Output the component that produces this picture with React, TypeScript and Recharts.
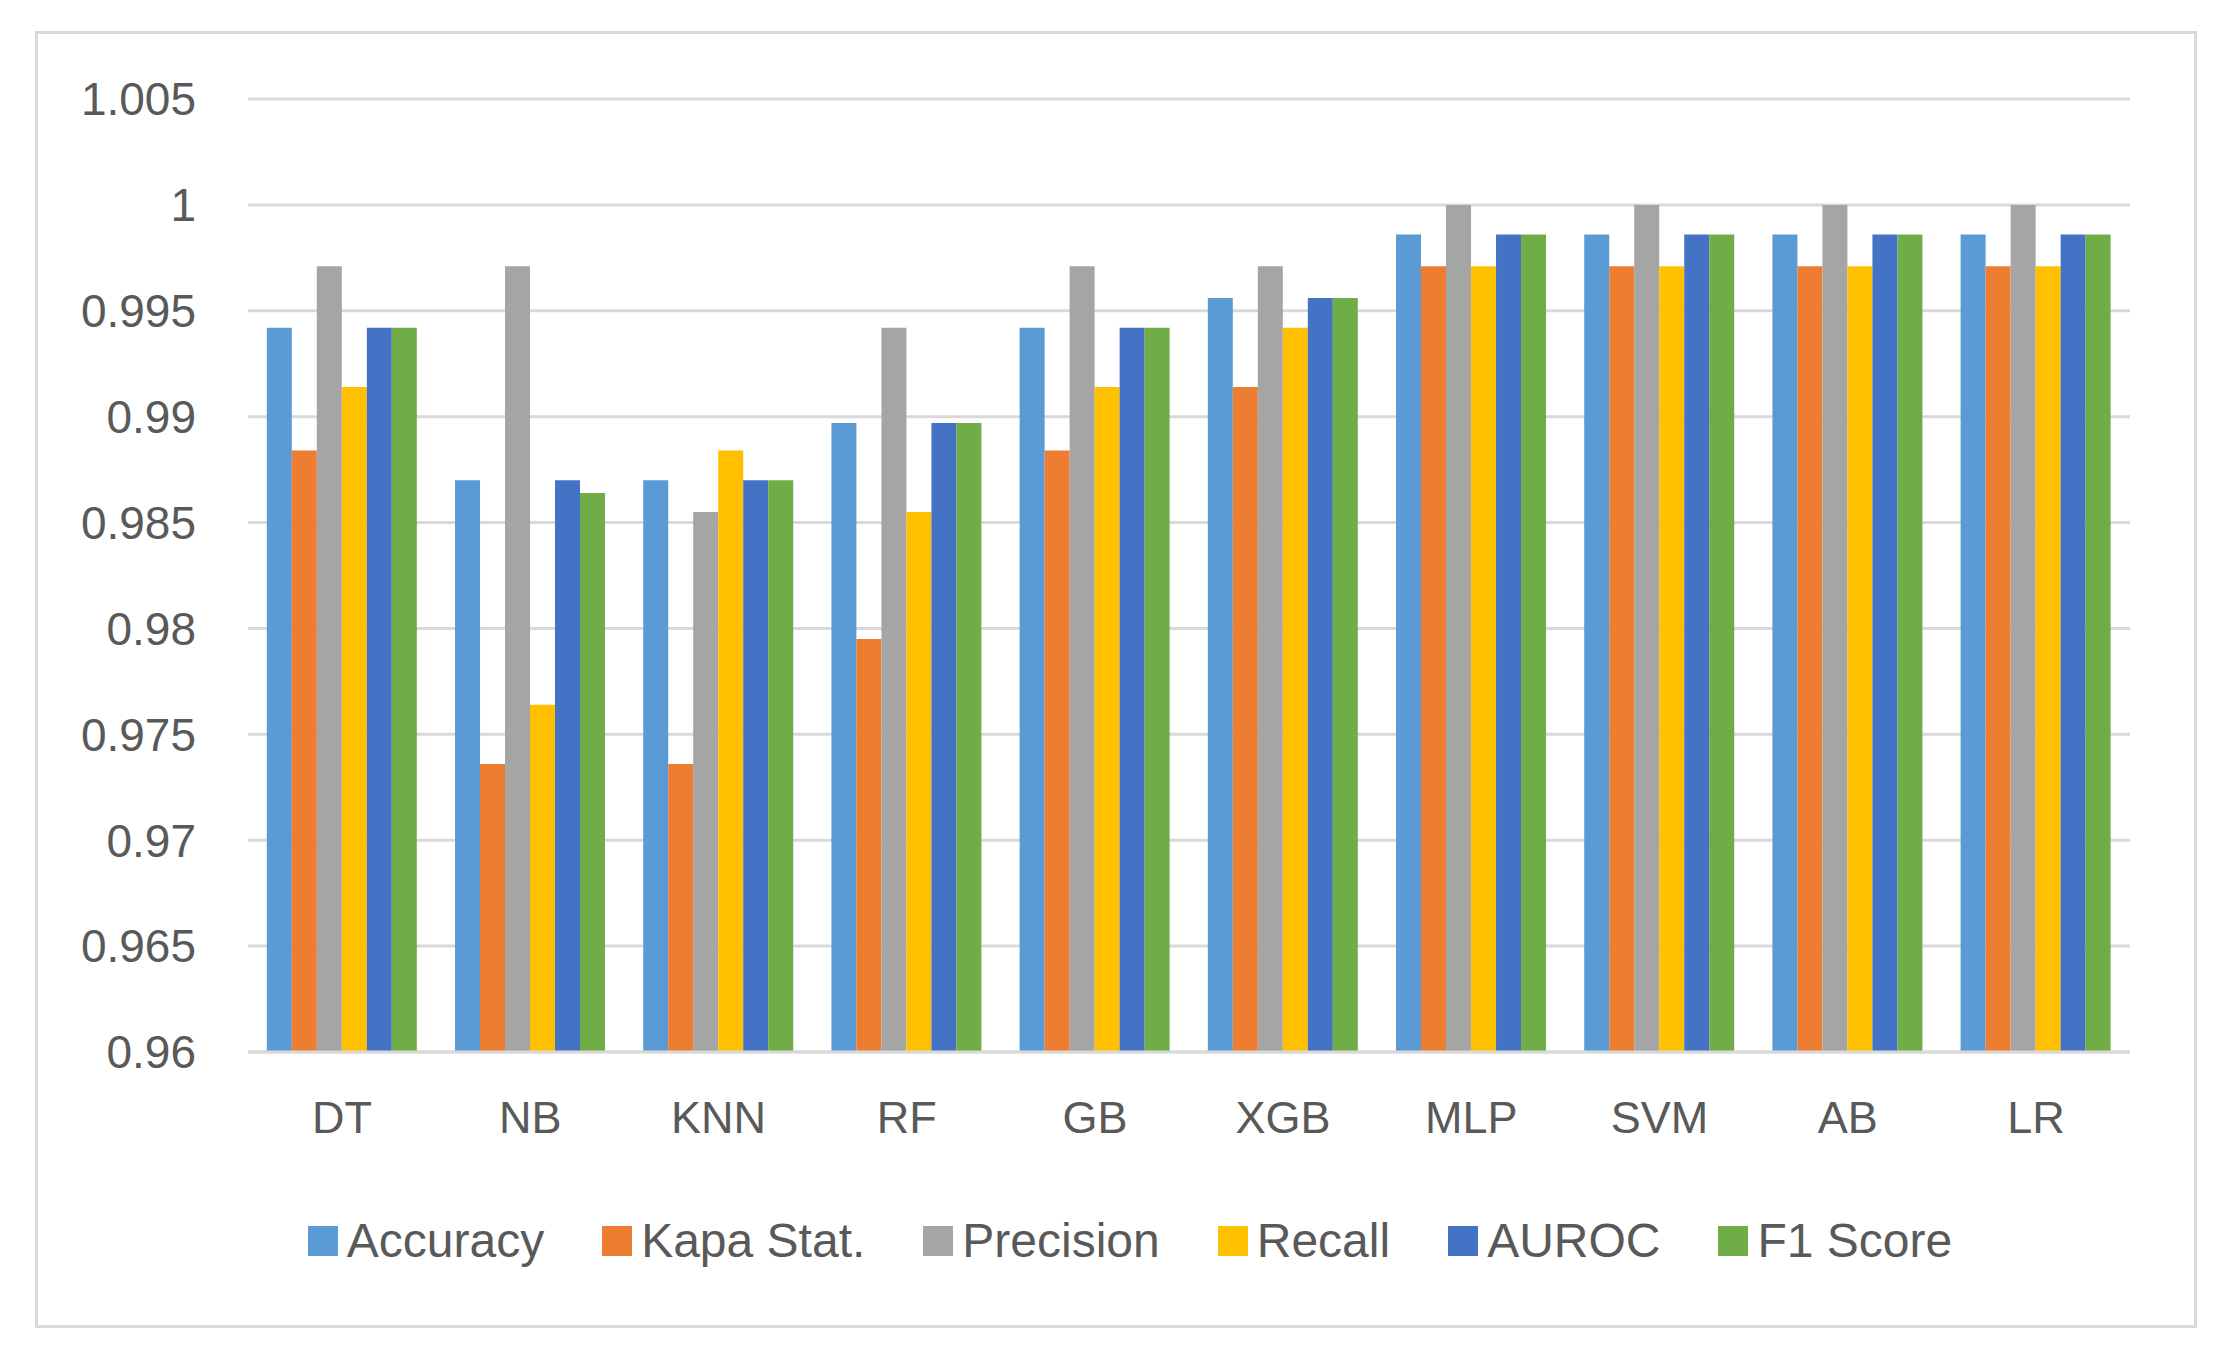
import { BarChart, Bar, XAxis, YAxis, CartesianGrid, Legend } from 'recharts'

const categories = ['DT', 'NB', 'KNN', 'RF', 'GB', 'XGB', 'MLP', 'SVM', 'AB', 'LR']
const accuracy = [0.9942, 0.987, 0.987, 0.9897, 0.9942, 0.9956, 0.9986, 0.9986, 0.9986, 0.9986]
const kapaStat = [0.9884, 0.9736, 0.9736, 0.9795, 0.9884, 0.9914, 0.9971, 0.9971, 0.9971, 0.9971]
const precision = [0.9971, 0.9971, 0.9855, 0.9942, 0.9971, 0.9971, 1, 1, 1, 1]
const recall = [0.9914, 0.9764, 0.9884, 0.9855, 0.9914, 0.9942, 0.9971, 0.9971, 0.9971, 0.9971]
const auroc = [0.9942, 0.987, 0.987, 0.9897, 0.9942, 0.9956, 0.9986, 0.9986, 0.9986, 0.9986]
const f1Score = [0.9942, 0.9864, 0.987, 0.9897, 0.9942, 0.9956, 0.9986, 0.9986, 0.9986, 0.9986]
const yTicks = [0.96, 0.965, 0.97, 0.975, 0.98, 0.985, 0.99, 0.995, 1, 1.005]

const series = [
  { key: 'acc', name: 'Accuracy', color: '#5B9BD5' },
  { key: 'kapa', name: 'Kapa Stat.', color: '#ED7D31' },
  { key: 'prec', name: 'Precision', color: '#A5A5A5' },
  { key: 'rec', name: 'Recall', color: '#FFC000' },
  { key: 'auroc', name: 'AUROC', color: '#4472C4' },
  { key: 'f1', name: 'F1 Score', color: '#70AD47' },
]

const data = categories.map((c, i) => ({
  name: c,
  acc: accuracy[i],
  kapa: kapaStat[i],
  prec: precision[i],
  rec: recall[i],
  auroc: auroc[i],
  f1: f1Score[i],
}))

const FONT = '"Liberation Sans", Arial, sans-serif'
const TEXT = '#595959'
const GRID = '#d9d9d9'

function LegendContent() {
  return (
    <div style={{ height: 60, display: 'flex', alignItems: 'center', justifyContent: 'center', paddingLeft: 38, fontFamily: FONT }}>
      {series.map((s, i) => (
        <div key={s.key} style={{ display: 'flex', alignItems: 'center', marginRight: i < series.length - 1 ? 58 : 0 }}>
          <span style={{ width: 30, height: 30, background: s.color, display: 'inline-block', marginRight: 9 }} />
          <span style={{ fontSize: 48, color: TEXT, lineHeight: '60px' }}>{s.name}</span>
        </div>
      ))}
    </div>
  )
}

export default function App() {
  return (
    <div style={{ position: 'absolute', left: 0, top: 0, width: 2222, height: 1362, background: '#fff' }}>
      <div style={{ position: 'absolute', left: 35, top: 31, width: 2156, height: 1291, border: `3px solid ${GRID}` }} />
      <BarChart
        width={2222}
        height={1362}
        data={data}
        margin={{ top: 99, right: 92, left: 148, bottom: 91 }}
        barCategoryGap="10%"
        barGap={0}
        style={{ fontFamily: FONT }}
      >
        <CartesianGrid vertical={false} stroke={GRID} strokeWidth={3} />
        <XAxis
          dataKey="name"
          height={159}
          tickLine={false}
          tickSize={0}
          tickMargin={49}
          axisLine={{ stroke: GRID, strokeWidth: 3 }}
          tick={{ fontSize: 45, fill: TEXT, fontFamily: FONT }}
        />
        <YAxis
          type="number"
          domain={[0.96, 1.005]}
          ticks={yTicks}
          width={100}
          axisLine={false}
          tickLine={false}
          tickSize={0}
          tickMargin={52}
          interval={0}
          tickFormatter={(v: number) => String(parseFloat(v.toFixed(3)))}
          tick={{ fontSize: 46, fill: TEXT, fontFamily: FONT }}
        />
        <Legend
          verticalAlign="bottom"
          content={<LegendContent />}
          wrapperStyle={{ left: 0, width: 2222, bottom: 91 }}
        />
        {series.map(s => (
          <Bar key={s.key} dataKey={s.key} name={s.name} fill={s.color} isAnimationActive={false} />
        ))}
      </BarChart>
    </div>
  )
}
